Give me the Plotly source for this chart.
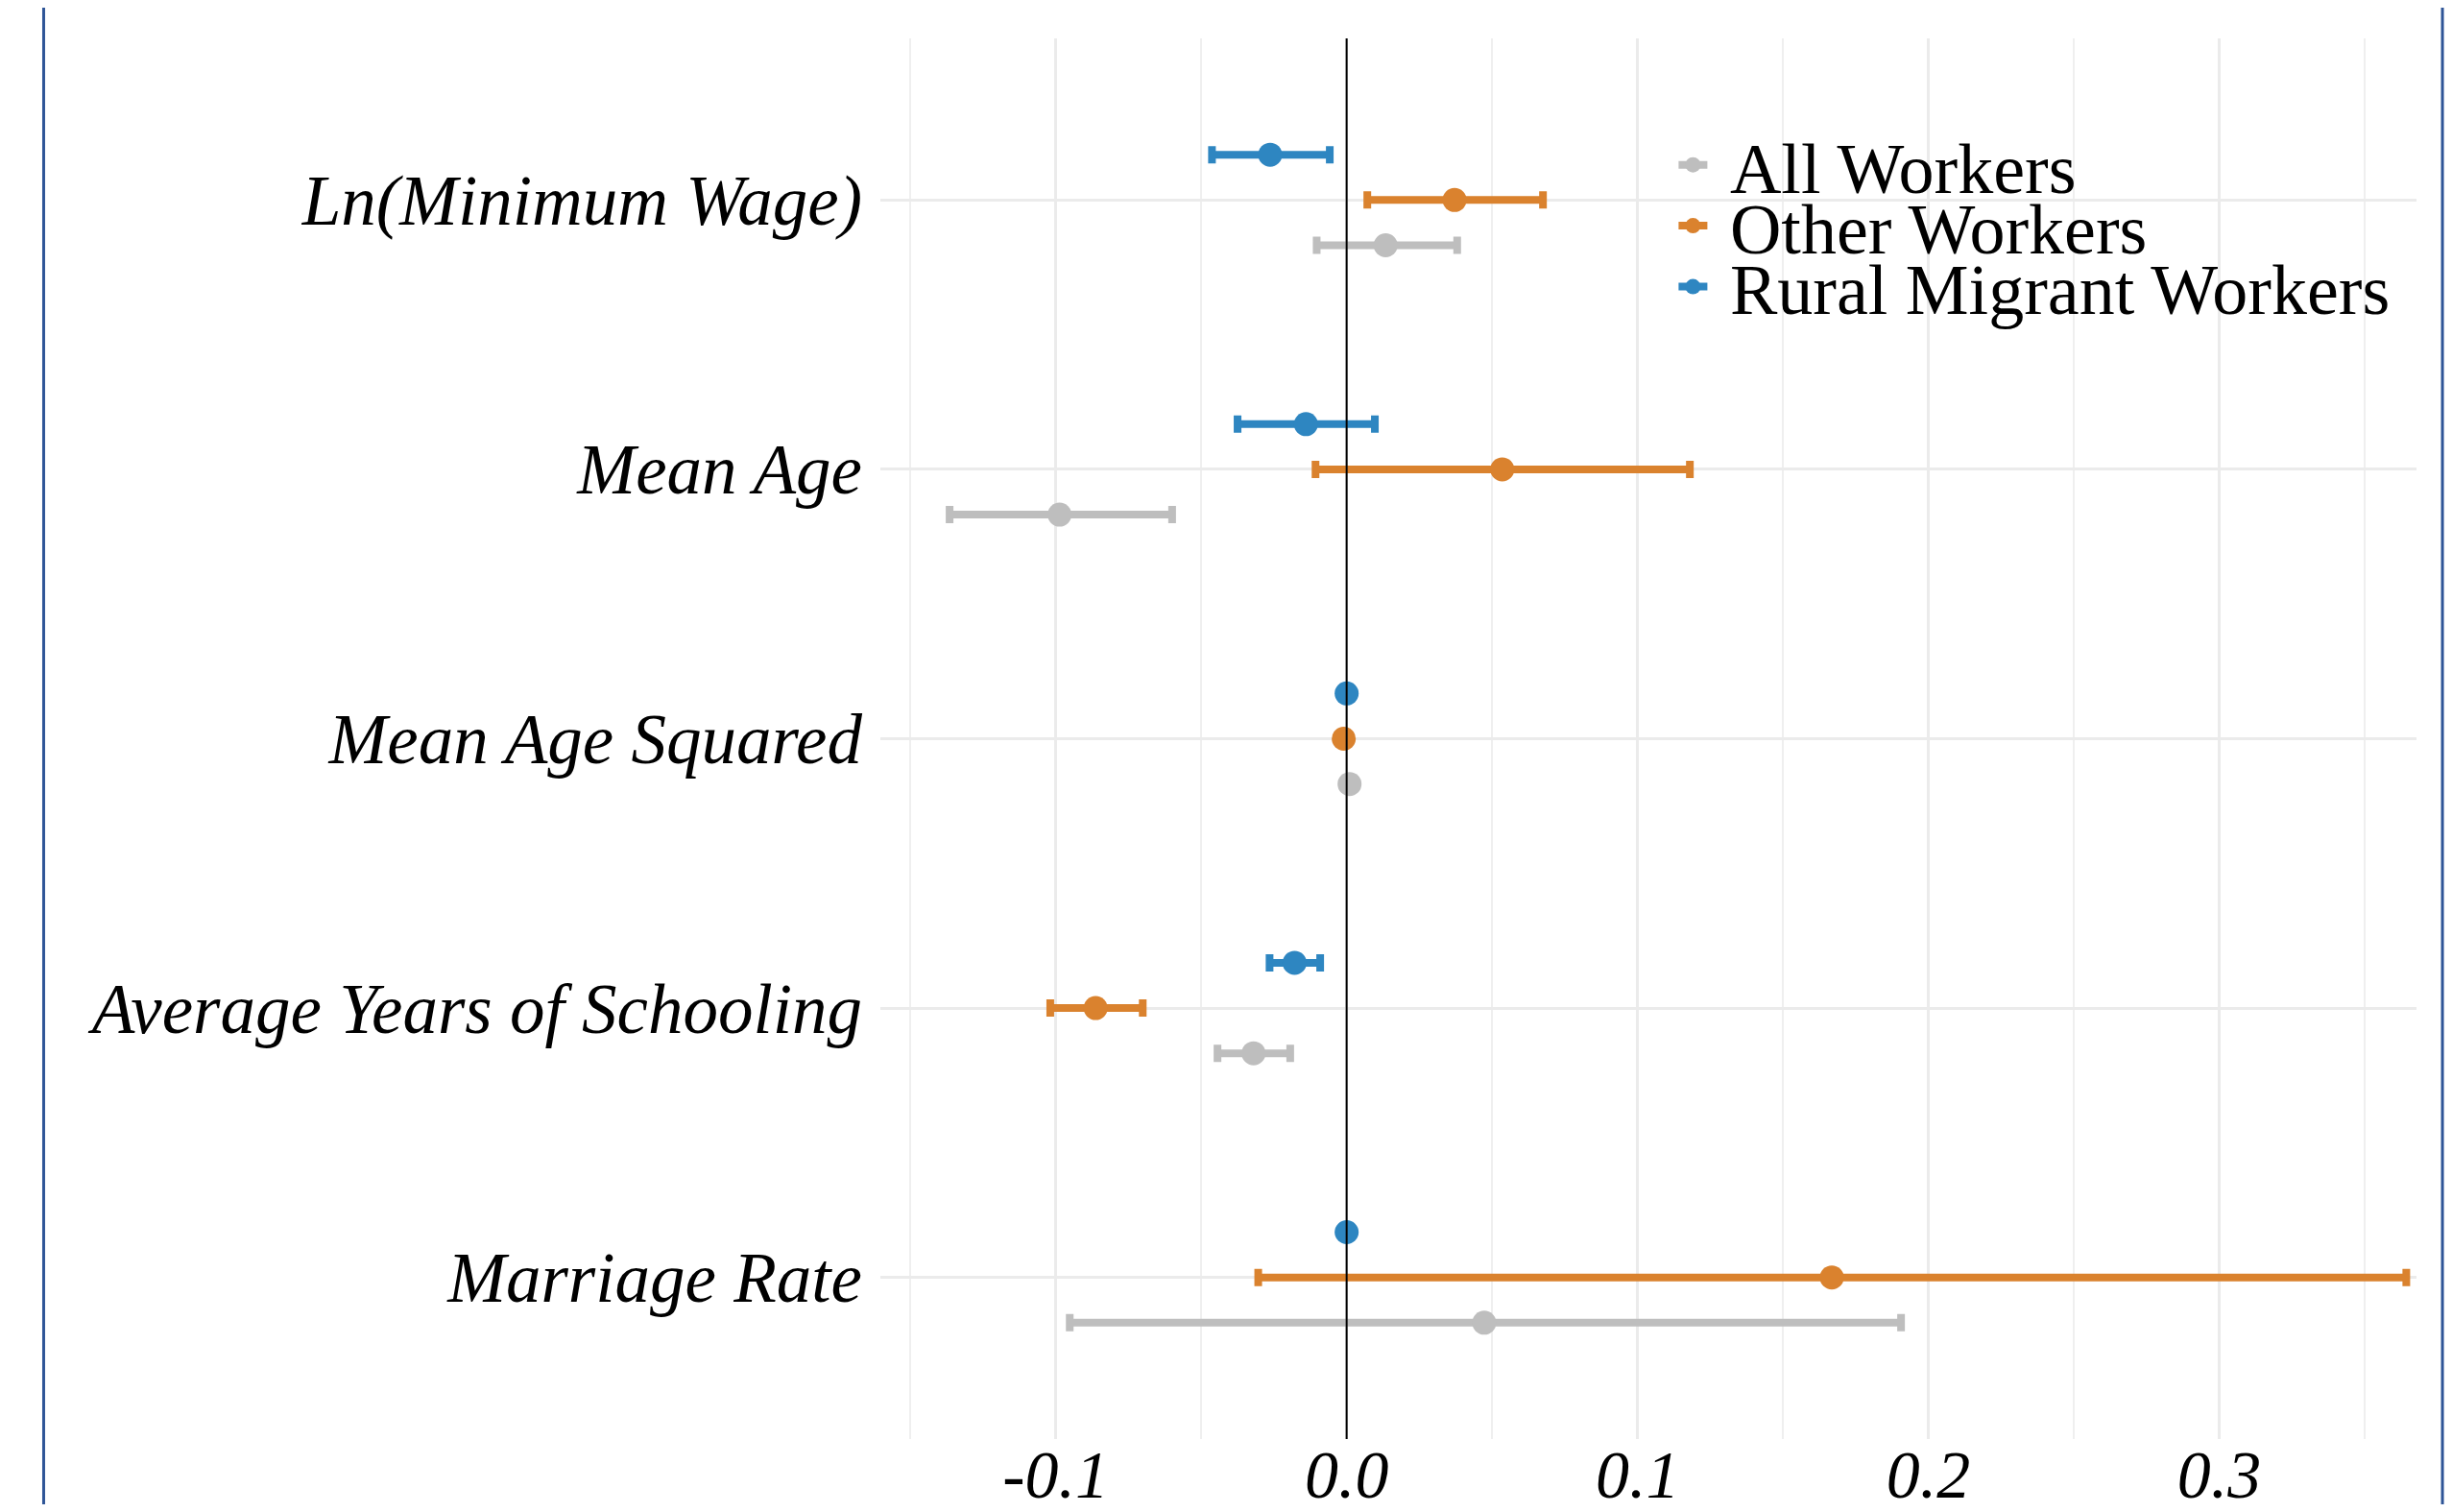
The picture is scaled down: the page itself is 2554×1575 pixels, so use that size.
import plotly.graph_objects as go

# ---------------- data ----------------
variables = ["Ln(Minimum Wage)", "Mean Age", "Mean Age Squared",
             "Average Years of Schooling", "Marriage Rate"]
groups = ["All Workers", "Other Workers", "Rural Migrant Workers"]

all_est = [0.0134, -0.0987, 0.0010, -0.0320, 0.0473]
all_lo = [-0.0103, -0.1365, 0.0005, -0.0444, -0.0952]
all_hi = [0.0380, -0.0600, 0.0015, -0.0194, 0.1906]

other_est = [0.0371, 0.0535, -0.0010, -0.0863, 0.1668]
other_lo = [0.0071, -0.0107, -0.0015, -0.1019, -0.0304]
other_hi = [0.0675, 0.1180, -0.0005, -0.0701, 0.3643]

rural_est = [-0.0263, -0.0140, 0.0000, -0.0179, 0.0000]
rural_lo = [-0.0463, -0.0375, -0.0004, -0.0265, -0.0004]
rural_hi = [-0.0058, 0.0097, 0.0004, -0.0091, 0.0004]

x_tickvals = [-0.1, 0.0, 0.1, 0.2, 0.3]
x_ticktext = ["-0.1", "0.0", "0.1", "0.2", "0.3"]
x_minorvals = [-0.15, -0.05, 0.05, 0.15, 0.25, 0.35]

colors = {"All Workers": "#BEBEBE", "Other Workers": "#DA822E",
          "Rural Migrant Workers": "#2E86C1"}

series = {
    "All Workers": (all_est, all_lo, all_hi, -0.168),
    "Other Workers": (other_est, other_lo, other_hi, 0.0),
    "Rural Migrant Workers": (rural_est, rural_lo, rural_hi, 0.168),
}

n = len(variables)
base_y = [n - i for i in range(n)]  # top category has highest value

FONT = "Liberation Serif, Times New Roman, serif"

fig = go.Figure()

for g in groups:
    est, lo, hi, off = series[g]
    ys = [b + off for b in base_y]
    fig.add_trace(go.Scatter(
        x=est, y=ys, mode="markers",
        marker=dict(size=25, color=colors[g]),
        error_x=dict(type="data", symmetric=False,
                     array=[h - e for h, e in zip(hi, est)],
                     arrayminus=[e - l for e, l in zip(est, lo)],
                     color=colors[g], thickness=8, width=9),
        showlegend=False, name=g,
    ))

# legend keys (one legend per group for tight spacing)
legend_names = ["legend", "legend2", "legend3"]
for g, lg in zip(groups, legend_names):
    fig.add_trace(go.Scatter(
        x=[None], y=[None], mode="lines+markers", name="\u00a0" + g,
        marker=dict(size=25, color=colors[g]),
        line=dict(color=colors[g], width=8),
        legend=lg, showlegend=True,
    ))

# vertical reference line at zero
fig.add_shape(type="line", xref="x", yref="paper", x0=0, x1=0, y0=0, y1=1,
              line=dict(color="black", width=2), layer="above")

# outer blue border lines (left and right)
fig.add_shape(type="line", xref="paper", yref="paper",
              x0=-0.5447, x1=-0.5447, y0=-0.06, y1=1.03,
              line=dict(color="#2F5597", width=3), layer="above")
fig.add_shape(type="line", xref="paper", yref="paper",
              x0=1.0169, x1=1.0169, y0=-0.06, y1=1.03,
              line=dict(color="#2F5597", width=3), layer="above")

leg_common = dict(font=dict(family=FONT, size=74, color="black"),
                  bgcolor="rgba(0,0,0,0)", xanchor="left", yanchor="middle",
                  x=0.5165, itemwidth=30, tracegroupgap=0)
leg_y = [0.9095, 0.8660, 0.8225]

fig.update_layout(
    width=2538, height=1559,
    margin=dict(l=909, r=29, t=32, b=68, autoexpand=False),
    plot_bgcolor="white", paper_bgcolor="white",
    font=dict(family=FONT, color="black"),
    legend=dict(**leg_common, y=leg_y[0]),
    legend2=dict(**leg_common, y=leg_y[1]),
    legend3=dict(**leg_common, y=leg_y[2]),
    xaxis=dict(
        range=[-0.1603, 0.3678],
        tickvals=x_tickvals, ticktext=["<i>%s</i>" % t for t in x_ticktext],
        tickfont=dict(family=FONT, size=70, color="black"),
        showgrid=True, gridcolor="#EBEBEB", gridwidth=3,
        minor=dict(tickvals=x_minorvals, showgrid=True,
                   gridcolor="#EFEFEF", gridwidth=2, ticks=""),
        zeroline=False, showline=False, ticks="",
        ticklabelstandoff=-10, automargin=False,
    ),
    yaxis=dict(
        range=[0.4, n + 0.6],
        tickvals=base_y, ticktext=["<i>%s</i>" % v for v in variables],
        tickfont=dict(family=FONT, size=73, color="black"),
        showgrid=True, gridcolor="#EBEBEB", gridwidth=3,
        zeroline=False, showline=False, ticks="",
        ticklabelstandoff=18, automargin=False,
    ),
)

fig.write_html("out.html")
